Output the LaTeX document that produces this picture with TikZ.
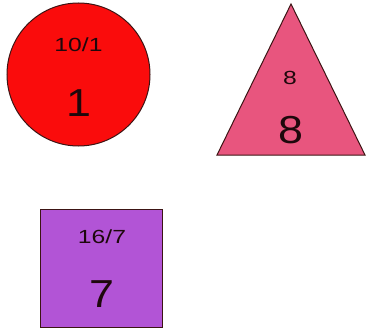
\documentclass[tikz,border=0pt]{standalone}
\usepackage{fontspec}
\setmainfont{Liberation Sans}
\definecolor{cred}{RGB}{250,12,12}
\definecolor{cpink}{RGB}{232,85,126}
\definecolor{cpurple}{RGB}{178,84,214}
\definecolor{cedge}{RGB}{60,20,20}
\definecolor{ctext}{RGB}{30,8,12}
\tikzset{
  shapeedge/.style={draw=cedge, line width=1pt},
  smalltxt/.style={font=\fontsize{19}{19}\selectfont, text=ctext, xscale=1.3, inner sep=0pt},
  bigtxt/.style={font=\fontsize{39}{39}\selectfont, text=ctext, xscale=1.15, inner sep=0pt}
}
\begin{document}
\begin{tikzpicture}[x=1pt,y=1pt]
\useasboundingbox (0,0) rectangle (366,-331);
% circle
\filldraw[shapeedge, fill=cred] (78.5,-74.5) circle (71.5);
\node[smalltxt] (c1) at (78.5,-45) {10/1};
\node[bigtxt] (c2) at (79,-103) {1};
% triangle
\filldraw[shapeedge, fill=cpink] (291,-4) -- (365,-155) -- (217,-155) -- cycle;
\node[smalltxt] (t1) at (290,-78) {8};
\node[bigtxt] (t2) at (291,-130) {8};
% square
\filldraw[shapeedge, fill=cpurple] (40,-209) rectangle (162,-327);
\node[smalltxt] (s1) at (102,-237) {16/7};
\node[bigtxt] (s2) at (102,-294) {7};
\end{tikzpicture}
\end{document}
